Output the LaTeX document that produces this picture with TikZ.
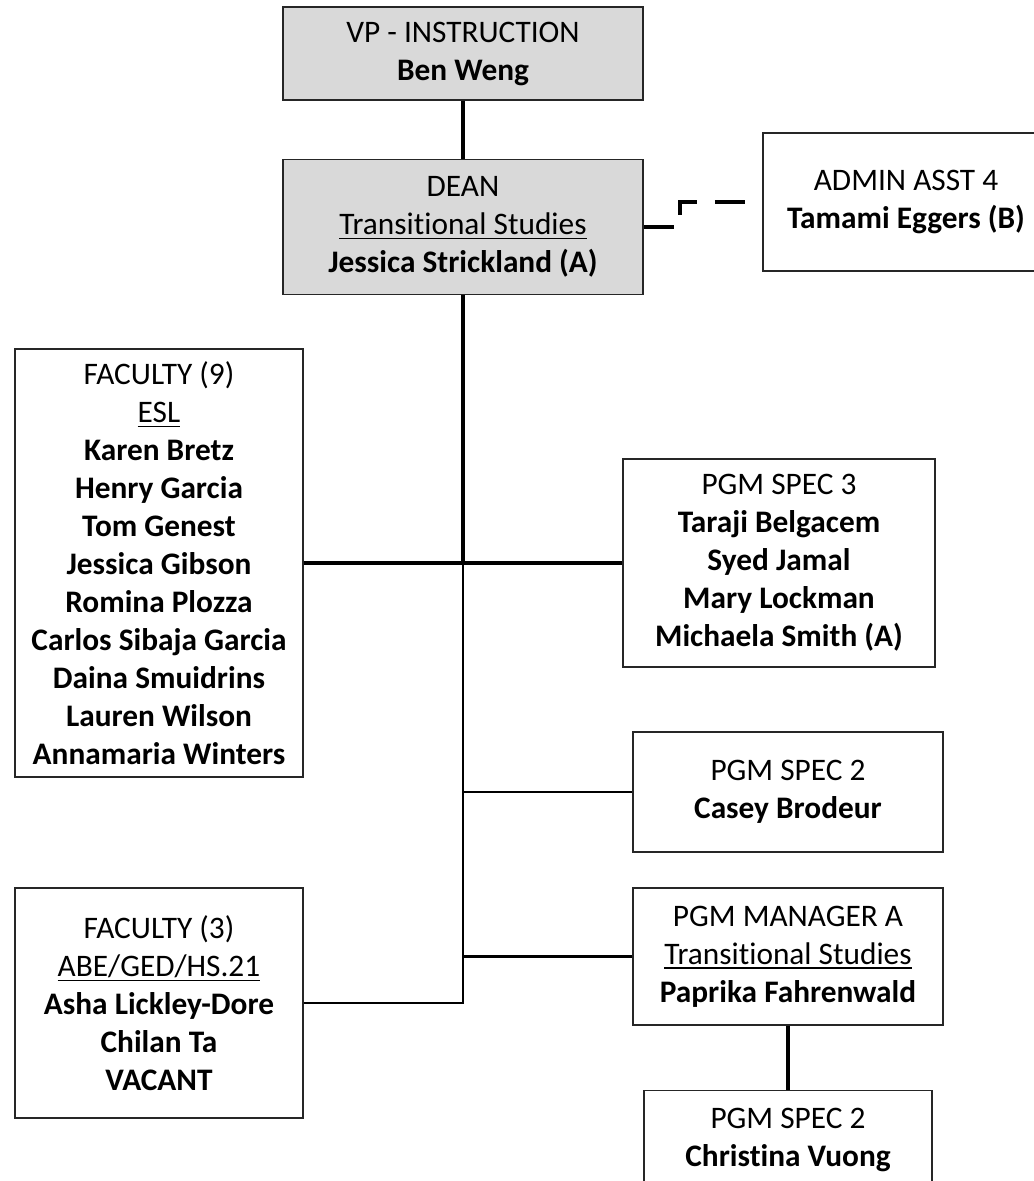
\documentclass[tikz,border=0pt]{standalone}
\usepackage{fontspec}
\setmainfont{Carlito}[Ligatures=NoCommon]
\usetikzlibrary{positioning}
\tikzstyle{box} = [draw=black!85, line width=1pt, align=center, inner sep=0pt, font=\fontsize{23.5}{28.5}\selectfont]
\tikzstyle{head} = [box, fill=black!15]
\tikzstyle{link} = [line width=2.2pt]
\tikzstyle{trunk} = [line width=3pt]
\tikzstyle{dashline} = [line width=3pt, dash pattern=on 22.5pt off 13.5pt]
\newcommand{\udl}[1]{\sbox0{#1}\rlap{\rule[-3.5pt]{\wd0}{1.1pt}}\usebox0}

\begin{document}
\begin{tikzpicture}[x=0.75pt, y=-0.75pt]
			\useasboundingbox (0,0) rectangle (1034,1181);
			\clip (0,0) rectangle (1034,1181);
			\node[head, minimum width=270pt, minimum height=69.75pt] (vp) at (463,53.5) {VP - INSTRUCTION\\\textbf{Ben Weng}};
			\node[head, minimum width=270pt, minimum height=101.25pt, below=43.5pt of vp] (dean) {DEAN\\\udl{Transitional Studies}\\\textbf{Jessica Strickland (A)}};
			\node[box, minimum width=214.5pt, minimum height=103.5pt] (admin) at (906,202) {ADMIN ASST 4\\\textbf{Tamami Eggers (B)}};
			\node[box, minimum width=216pt, minimum height=321pt] (fac9) at (159,563) {FACULTY (9)\\\udl{ESL}\\\textbf{Karen Bretz}\\\textbf{Henry Garcia}\\\textbf{Tom Genest}\\\textbf{Jessica Gibson}\\\textbf{Romina Plozza}\\\textbf{Carlos Sibaja Garcia}\\\textbf{Daina Smuidrins}\\\textbf{Lauren Wilson}\\\textbf{Annamaria Winters}};
			\node[box, minimum width=234pt, minimum height=156pt] (spec3) at (779,563) {PGM SPEC 3\\\textbf{Taraji Belgacem}\\\textbf{Syed Jamal}\\\textbf{Mary Lockman}\\\textbf{Michaela Smith (A)}};
			\node[box, minimum width=232.5pt, minimum height=90pt] (spec2) at (788,792) {PGM SPEC 2\\\textbf{Casey Brodeur}};
			\node[box, minimum width=232.5pt, minimum height=102.75pt] (mgr) at (788,956.5) {PGM MANAGER A\\\udl{Transitional Studies}\\\textbf{Paprika Fahrenwald}};
			\node[box, minimum width=216pt, minimum height=172.5pt] (fac3) at (159,1003) {FACULTY (3)\\\udl{ABE/GED/HS.21}\\\textbf{Asha Lickley-Dore}\\\textbf{Chilan Ta}\\\textbf{VACANT}};
			\node[box, minimum width=216pt, minimum height=75pt, below=48pt of mgr] (spec2b) {PGM SPEC 2\\\textbf{Christina Vuong}};
			\coordinate (cross) at (dean.south |- fac9.east);
			\coordinate (foot) at (dean.south |- fac3.east);

			\draw[trunk] (vp) -- (dean);
			\draw[trunk] (dean) -- (cross);
			\draw[line width=2.6pt] (fac9) -- (spec3);
			\draw[link] (cross) -- (foot) -- (fac3);
			\draw[link] (cross |- spec2.west) -- (spec2);
			\draw[link] (cross |- mgr.west) -- (mgr);
			\draw[trunk] (mgr) -- (spec2b);
			\draw[dashline] (dean.east) -- ++(36,0) |- (admin.west);

		\end{tikzpicture}
\end{document}
